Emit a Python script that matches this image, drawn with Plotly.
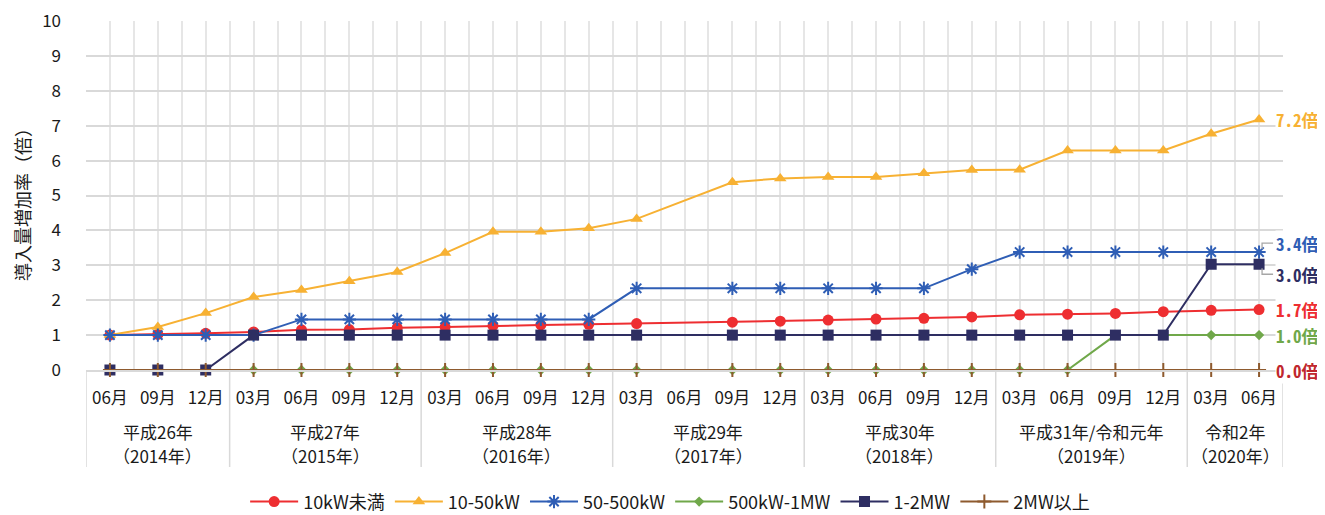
import plotly.graph_objects as go

# ---- data ----
months = ["06月", "09月", "12月",
          "03月", "06月", "09月", "12月",
          "03月", "06月", "09月", "12月",
          "03月", "06月", "09月", "12月",
          "03月", "06月", "09月", "12月",
          "03月", "06月", "09月", "12月",
          "03月", "06月"]
era_labels = ["平成26年", "平成27年", "平成28年", "平成29年", "平成30年",
              "平成31年/令和元年", "令和2年"]
year_labels = ["（2014年）", "（2015年）", "（2016年）", "（2017年）", "（2018年）",
               "（2019年）", "（2020年）"]
year_counts = [3, 4, 4, 4, 4, 4, 2]

series_names = ["10kW未満", "10-50kW", "50-500kW", "500kW-1MW", "1-2MW", "2MW以上"]
under10kW = [1.00, 1.02, 1.05, 1.09, 1.15, 1.16, 1.21, 1.23, 1.27, 1.29, 1.31, 1.33, None,
             1.37, 1.40, 1.43, 1.46, 1.48, 1.52, 1.58, 1.60, 1.62, 1.67, 1.71, 1.73]
kw10_50 = [1.00, 1.23, 1.63, 2.09, 2.29, 2.54, 2.81, 3.35, 3.96, 3.96, 4.06, 4.33, None,
           5.38, 5.49, 5.53, 5.53, 5.64, 5.73, 5.74, 6.29, 6.29, 6.29, 6.77, 7.18]
kw50_500 = [1.00, 1.00, 1.00, 1.00, 1.45, 1.45, 1.45, 1.45, 1.45, 1.45, 1.45, 2.34, None,
            2.34, 2.34, 2.34, 2.34, 2.34, 2.89, 3.38, 3.38, 3.38, 3.38, 3.38, 3.38]
kw500_1MW = [0, 0, 0, 0, 0, 0, 0, 0, 0, 0, 0, 0, None,
             0, 0, 0, 0, 0, 0, 0, 0, 1.0, 1.0, 1.0, 1.0]
mw1_2 = [0, 0, 0, 1.0, 1.0, 1.0, 1.0, 1.0, 1.0, 1.0, 1.0, 1.0, None,
         1.0, 1.0, 1.0, 1.0, 1.0, 1.0, 1.0, 1.0, 1.0, 1.0, 3.03, 3.03]
mw2_over = [0, 0, 0, 0, 0, 0, 0, 0, 0, 0, 0, 0, None,
            0, 0, 0, 0, 0, 0, 0, 0, 0, 0, 0, 0]
end_labels = ["1.7倍", "7.2倍", "3.4倍", "1.0倍", "3.0倍", "0.0倍"]
y_title = "導入量増加率（倍）"

# ---- styles ----
FONT = "Noto Sans CJK JP"
LABEL_FONT = "Noto Sans Mono CJK JP, Noto Sans CJK JP"
TEXT = "#1A1A1A"
colors = ["#EE2E31", "#F7B133", "#2F5EB5", "#70A84A", "#2E2E62", "#8E5A2E"]
label_colors = ["#EE2E31", "#F7B133", "#2F5EB5", "#70A84A", "#2E2E62", "#C0272D"]
symbols = ["circle", "triangle-up", "asterisk-open", "diamond", "square", "cross-thin-open"]
sizes = [11, 11, 11, 8, 11, 10]
label_yshift = [0, 0, 9, 0, -10, 0]

values = [under10kW, kw10_50, kw50_500, kw500_1MW, mw1_2, mw2_over]
x = list(range(len(months)))
n = len(months)

fig = go.Figure()
for name, vals, c, s, sz in zip(series_names, values, colors, symbols, sizes):
    marker = dict(symbol=s, size=sz, color=c)
    if s in ("asterisk-open", "cross-thin-open"):
        marker["line"] = dict(color=c, width=2)
    fig.add_trace(go.Scatter(
        x=x, y=vals, name=name, mode="lines+markers",
        line=dict(color=c, width=2), marker=marker,
        connectgaps=True, cliponaxis=False,
    ))

# end labels
for vals, txt, c, ys in zip(values, end_labels, label_colors, label_yshift):
    fig.add_annotation(x=n - 1, y=vals[-1], xref="x", yref="y", text=txt,
                       showarrow=False, xanchor="left", xshift=16, yshift=ys,
                       bgcolor="white", borderpad=0,
                       font=dict(family=LABEL_FONT, size=17, color=c, weight="bold"))

# leader lines for 3.4 and 3.0
fig.add_shape(type="path", xref="x", yref="y", xsizemode="pixel", ysizemode="pixel",
              xanchor=n - 1, yanchor=kw50_500[-1],
              path="M 3,3 L 3,9 L 14,9", line=dict(color="#A6A6A6", width=1.3))
fig.add_shape(type="path", xref="x", yref="y", xsizemode="pixel", ysizemode="pixel",
              xanchor=n - 1, yanchor=mw1_2[-1],
              path="M 3,-4 L 3,-10 L 14,-10", line=dict(color="#A6A6A6", width=1.3))

# year group labels and dividers
start = 0
bounds = [-0.5]
for era, yr, cnt in zip(era_labels, year_labels, year_counts):
    center = start + (cnt - 1) / 2
    fig.add_annotation(x=center, y=-0.175, xref="x", yref="paper", text=era,
                       showarrow=False, yanchor="middle",
                       font=dict(family=FONT, size=17, color=TEXT))
    fig.add_annotation(x=center, y=-0.244, xref="x", yref="paper", text=yr,
                       showarrow=False, yanchor="middle",
                       font=dict(family=FONT, size=17, color=TEXT))
    start += cnt
    bounds.append(start - 0.5)
for b in bounds:
    fig.add_shape(type="line", xref="x", yref="paper", x0=b, x1=b, y0=0, y1=-0.278,
                  line=dict(color="#D9D9D9", width=1.5))

fig.update_layout(
    width=1317, height=507,
    margin=dict(l=78, r=42, t=13, b=145, autoexpand=False),
    paper_bgcolor="white", plot_bgcolor="white",
    font=dict(family=FONT, size=16, color=TEXT),
    showlegend=True,
    legend=dict(orientation="h", x=0.488, xanchor="center", y=-0.378, yanchor="middle",
                font=dict(family=FONT, size=18, color=TEXT), itemwidth=48),
    xaxis=dict(range=[-0.5, n - 0.5], tickmode="array", tickvals=x, ticktext=months,
               tickfont=dict(size=17),
               showgrid=True, gridcolor="#E6E6E6", gridwidth=1.5, ticks="",
               ticklabelstandoff=12, zeroline=False,
               showline=True, linecolor="#D9D9D9", linewidth=1.5,
               minor=dict(tickmode="array", tickvals=[i - 0.5 for i in range(n + 1)],
                          showgrid=True, gridcolor="#E6E6E6", gridwidth=1.5, ticks="")),
    yaxis=dict(range=[0, 10], dtick=1, showgrid=True, gridcolor="#D9D9D9", gridwidth=1.5,
               zeroline=False, ticks="", ticklabelstandoff=24, tickfont=dict(size=17),
               ticklabeloverflow="allow", title=None),
)
fig.add_annotation(text=y_title, xref="paper", yref="paper", x=-0.0535, y=0.487,
                   textangle=-90, showarrow=False, xanchor="center", yanchor="middle",
                   font=dict(family=FONT, size=18, color=TEXT))

fig.write_html("out.html")
